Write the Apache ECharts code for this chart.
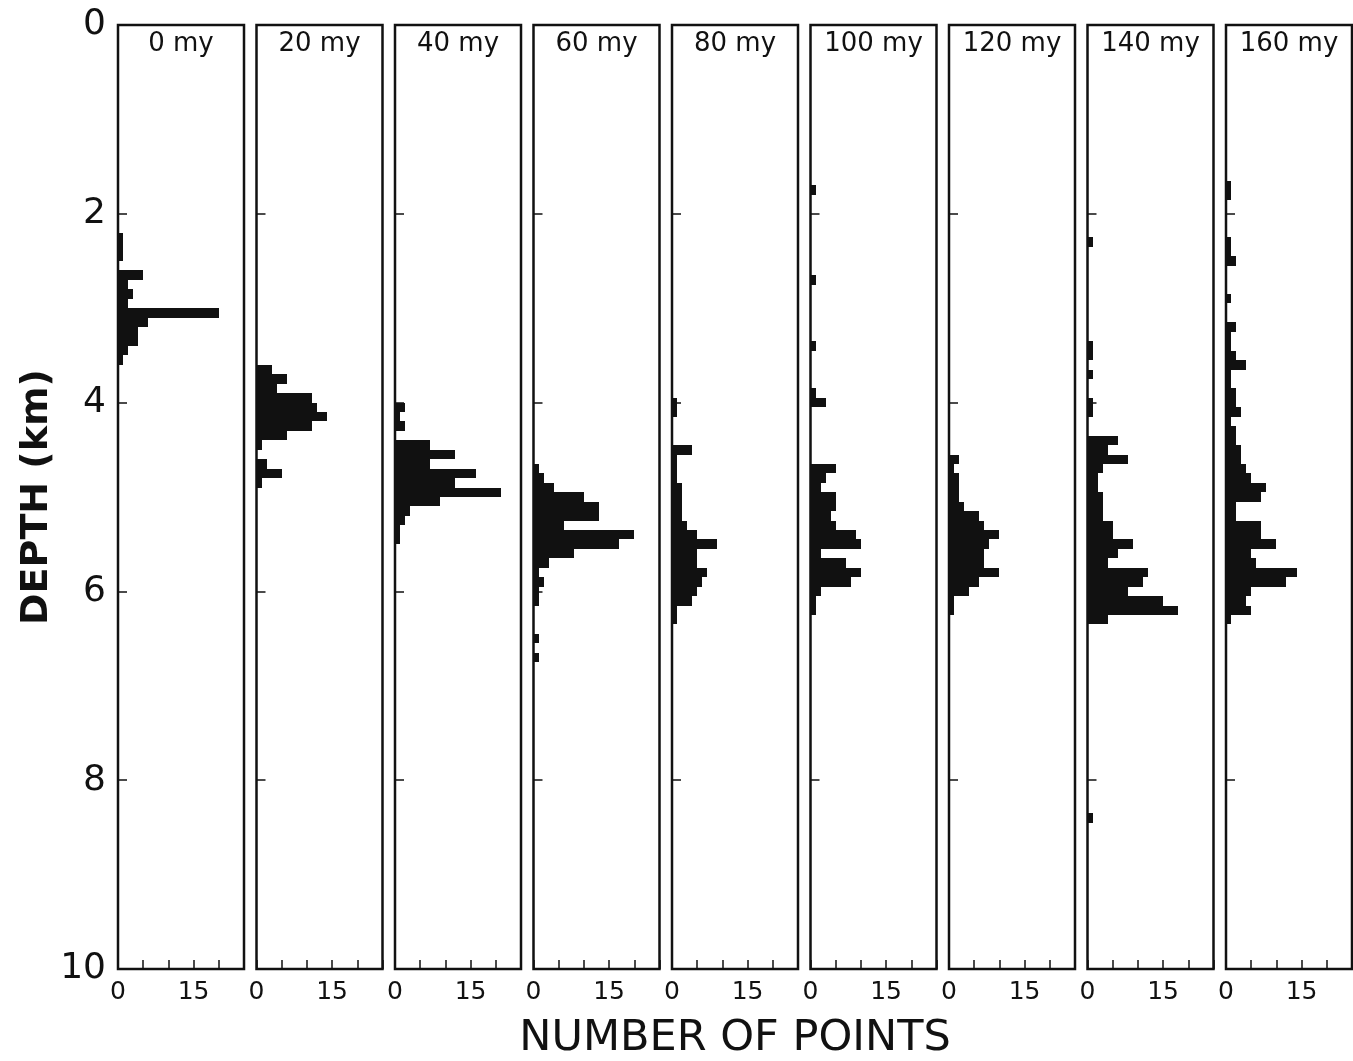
<!DOCTYPE html>
<html>
<head>
<meta charset="utf-8">
<script src="https://cdn.jsdelivr.net/npm/echarts@6/dist/echarts.min.js"></script>
<style>
  html, body { margin: 0; padding: 0; background: #fff; }
  #chart { width: 1353px; height: 1061px; }
</style>
</head>
<body>
<div id="chart"></div>
<script>
// Depth histograms of points through time: each bin is [top of bin (km), number of points]
const panelTitles = ['0 my', '20 my', '40 my', '60 my', '80 my', '100 my', '120 my', '140 my', '160 my'];
const depthTickLabels = [0, 2, 4, 6, 8, 10];
const countTickLabels = [0, 15];
const binWidth = 0.1; // km

const bins0my = [[2.2,1],[2.3,1],[2.4,1],[2.6,5],[2.7,2],[2.8,3],[2.9,2],[3.0,20],[3.1,6],[3.2,4],[3.3,4],[3.4,2],[3.5,1]];
const bins20my = [[3.6,3],[3.7,6],[3.8,4],[3.9,11],[4.0,12],[4.1,14],[4.2,11],[4.3,6],[4.4,1],[4.6,2],[4.7,5],[4.8,1]];
const bins40my = [[4.0,2],[4.1,1],[4.2,2],[4.4,7],[4.5,12],[4.6,7],[4.7,16],[4.8,12],[4.9,21],[5.0,9],[5.1,3],[5.2,2],[5.3,1],[5.4,1]];
const bins60my = [[4.65,1],[4.75,2],[4.85,4],[4.95,10],[5.05,13],[5.15,13],[5.25,6],[5.35,20],[5.45,17],[5.55,8],[5.65,3],[5.75,1],[5.85,2],[5.95,1],[6.05,1],[6.45,1],[6.65,1]];
const bins80my = [[3.95,1],[4.05,1],[4.45,4],[4.55,1],[4.65,1],[4.75,1],[4.85,2],[4.95,2],[5.05,2],[5.15,2],[5.25,3],[5.35,5],[5.45,9],[5.55,5],[5.65,5],[5.75,7],[5.85,6],[5.95,5],[6.05,4],[6.15,1],[6.25,1]];
const bins100my = [[1.7,1],[2.65,1],[3.35,1],[3.85,1],[3.95,3],[4.65,5],[4.75,3],[4.85,2],[4.95,5],[5.05,5],[5.15,4],[5.25,5],[5.35,9],[5.45,10],[5.55,2],[5.65,7],[5.75,10],[5.85,8],[5.95,2],[6.05,1],[6.15,1]];
const bins120my = [[4.55,2],[4.65,1],[4.75,2],[4.85,2],[4.95,2],[5.05,3],[5.15,6],[5.25,7],[5.35,10],[5.45,8],[5.55,7],[5.65,7],[5.75,10],[5.85,6],[5.95,4],[6.05,1],[6.15,1]];
const bins140my = [[2.25,1],[3.35,1],[3.45,1],[3.65,1],[3.95,1],[4.05,1],[4.35,6],[4.45,4],[4.55,8],[4.65,3],[4.75,2],[4.85,2],[4.95,3],[5.05,3],[5.15,3],[5.25,5],[5.35,5],[5.45,9],[5.55,6],[5.65,4],[5.75,12],[5.85,11],[5.95,8],[6.05,15],[6.15,18],[6.25,4],[8.35,1]];
const bins160my = [[1.65,1],[1.75,1],[2.25,1],[2.35,1],[2.45,2],[2.85,1],[3.15,2],[3.25,1],[3.35,1],[3.45,2],[3.55,4],[3.65,1],[3.75,1],[3.85,2],[3.95,2],[4.05,3],[4.15,1],[4.25,2],[4.35,2],[4.45,3],[4.55,3],[4.65,4],[4.75,5],[4.85,8],[4.95,7],[5.05,2],[5.15,2],[5.25,7],[5.35,7],[5.45,10],[5.55,5],[5.65,6],[5.75,14],[5.85,12],[5.95,5],[6.05,4],[6.15,5],[6.25,1]];

const panelBins = [bins0my, bins20my, bins40my, bins60my, bins80my, bins100my, bins120my, bins140my, bins160my];

const FONT = 'DejaVu Sans';
const INK = '#111';
const panelLeft0 = 118, panelStep = 138.5, panelWidth = 126, panelTop = 25, panelHeight = 944;

const grids = [], xAxes = [], yAxes = [], series = [], titles = [];

panelBins.forEach((bins, i) => {
  const left = panelLeft0 + i * panelStep;
  grids.push({
    left: left, top: panelTop, width: panelWidth, height: panelHeight,
    outerBoundsMode: 'none', containLabel: false,
    show: true, borderColor: INK, borderWidth: 2.5, backgroundColor: 'transparent'
  });
  xAxes.push({
    gridIndex: i, type: 'value', position: 'bottom', min: 0, max: 25, interval: 5,
    axisLine: { show: false, onZero: false },
    axisTick: { show: true, inside: true, length: 9, lineStyle: { color: INK, width: 1.5 } },
    splitLine: { show: false },
    axisLabel: {
      show: true, margin: 11, color: INK, fontFamily: FONT, fontSize: 25,
      formatter: v => countTickLabels.includes(v) ? String(v) : ''
    },
    name: i === 4 ? 'NUMBER OF POINTS' : '',
    nameLocation: 'middle', nameGap: 48,
    nameTextStyle: { color: INK, fontFamily: FONT, fontSize: 43 }
  });
  yAxes.push({
    gridIndex: i, type: 'value', position: 'left', inverse: true, min: 0, max: 10, interval: 2,
    axisLine: { show: false, onZero: false },
    axisTick: { show: true, inside: true, length: 9, lineStyle: { color: INK, width: 1.5 } },
    splitLine: { show: false },
    axisLabel: {
      show: i === 0, margin: 12, color: INK, fontFamily: FONT, fontSize: 36,
      formatter: v => depthTickLabels.includes(v) ? String(v) : ''
    },
    name: i === 0 ? 'DEPTH (km)' : '',
    nameLocation: 'middle', nameRotate: 90, nameGap: 62,
    nameTextStyle: { color: INK, fontFamily: FONT, fontSize: 38, fontWeight: 'bold' }
  });
  series.push({
    type: 'custom', xAxisIndex: i, yAxisIndex: i, data: bins, clip: true,
    renderItem: (params, api) => {
      const top = api.value(0), n = api.value(1);
      const p0 = api.coord([0, top]);
      const p1 = api.coord([n, top + binWidth]);
      // snap to whole pixels so neighbouring bins join without seams
      const x0 = Math.round(p0[0]), y0 = Math.round(p0[1]);
      const x1 = Math.round(p1[0]), y1 = Math.round(p1[1]);
      return {
        type: 'rect',
        shape: { x: x0, y: y0, width: x1 - x0, height: y1 - y0 },
        style: { fill: INK }
      };
    }
  });
  titles.push({
    text: panelTitles[i], left: left + panelWidth / 2, top: 31, padding: 0,
    textAlign: 'center',
    textStyle: { color: INK, fontFamily: FONT, fontSize: 26, fontWeight: 'normal' }
  });
});

const chart = echarts.init(document.getElementById('chart'), null, { renderer: 'canvas' });
chart.setOption({
  animation: false,
  backgroundColor: '#fff',
  title: titles,
  grid: grids,
  xAxis: xAxes,
  yAxis: yAxes,
  series: series
});
</script>
</body>
</html>
